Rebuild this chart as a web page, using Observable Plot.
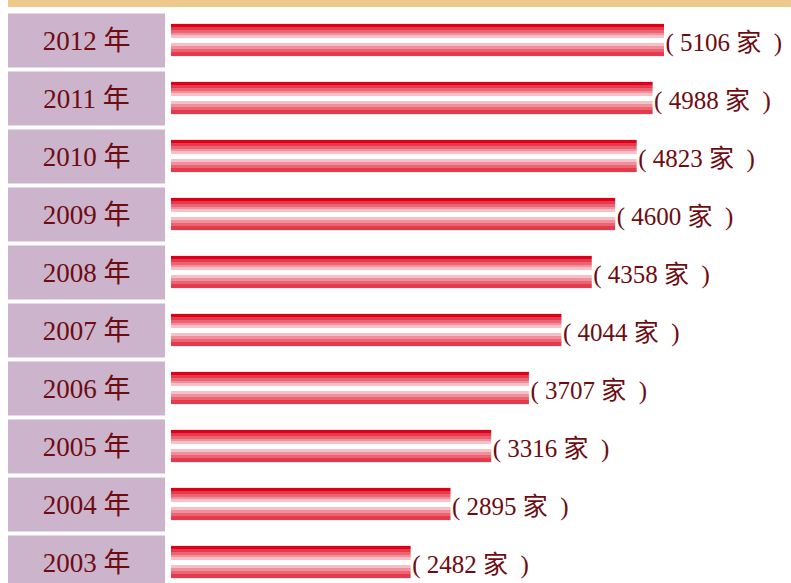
<!DOCTYPE html>
<html>
<head>
<meta charset="utf-8">
<script src="https://cdn.jsdelivr.net/npm/d3@7"></script>
<script src="https://cdn.jsdelivr.net/npm/@observablehq/plot@0.6"></script>
<style>
  html, body { margin: 0; padding: 0; background: #fff; }
  #wrap { position: relative; width: 791px; height: 583px; overflow: hidden; }
  #strip { position: absolute; left: 8px; top: 0; width: 783px; height: 7px; background: #efc88c; }
  #chart { position: absolute; left: 0; top: 0; }
</style>
</head>
<body>
<div id="wrap"><div id="strip"></div><div id="chart"></div></div>
<script>
const years = ["2012", "2011", "2010", "2009", "2008", "2007", "2006", "2005", "2004", "2003"];
const counts = [5106, 4988, 4823, 4600, 4358, 4044, 3707, 3316, 2895, 2482];
const unit = "家";
const yearSuffix = " 年";

const data = years.map((y, i) => ({year: y, value: counts[i]}));
const textColor = "#6e0c12";
const fontFamily = "'Liberation Serif', 'DejaVu Serif', 'Noto Sans CJK TC', serif";

const chart = Plot.plot({
  width: 791,
  height: 583,
  marginLeft: 165,
  marginRight: 0,
  marginTop: 0,
  marginBottom: 0,
  style: {fontFamily, background: "transparent", overflow: "visible"},
  x: {domain: [0, d3.max(counts)], range: [171, 664], axis: null},
  y: {domain: years, range: [8.8, 593.2], padding: 0, label: null},
  marks: [
    Plot.axisY({tickSize: 157, strokeWidth: 54, stroke: "#cbb4cc", strokeOpacity: 1, tickFormat: () => "", label: null}),
    Plot.axisY({tickSize: 0, tickPadding: 0, textAnchor: "middle", dx: -79, dy: 1, label: null,
      tickFormat: d => d + yearSuffix, fontSize: 27, fill: textColor}),
    Plot.barX(data, {x: "value", y: "year", fill: "url(#barGrad)", insetTop: 12.9, insetBottom: 12.9}),
    Plot.text(data, {x: "value", y: "year", text: d => `( ${d.value} ${unit}\u2002)`,
      textAnchor: "start", dx: 1, dy: 2, fontSize: 25, fill: textColor})
  ]
});

const svg = d3.select(chart);
const grad = svg.insert("defs", ":first-child").append("linearGradient")
  .attr("id", "barGrad").attr("x1", 0).attr("y1", 0).attr("x2", 0).attr("y2", 1);
const stops = [
  [0.00, "#dc0018"], [0.09, "#dc0018"],
  [0.09, "#e53a4c"], [0.18, "#e53a4c"],
  [0.18, "#ea6474"], [0.27, "#ea6474"],
  [0.27, "#f0909c"], [0.36, "#f0909c"],
  [0.36, "#f6c0c6"], [0.45, "#f6c0c6"],
  [0.45, "#ffffff"], [0.59, "#ffffff"],
  [0.59, "#f6c0c6"], [0.68, "#f6c0c6"],
  [0.68, "#f0909c"], [0.77, "#f0909c"],
  [0.77, "#ea6474"], [0.86, "#ea6474"],
  [0.86, "#e53a4c"], [1.00, "#e53a4c"]
];
stops.forEach(([o, c]) => grad.append("stop").attr("offset", o).attr("stop-color", c));

document.getElementById("chart").append(chart);
</script>
</body>
</html>
